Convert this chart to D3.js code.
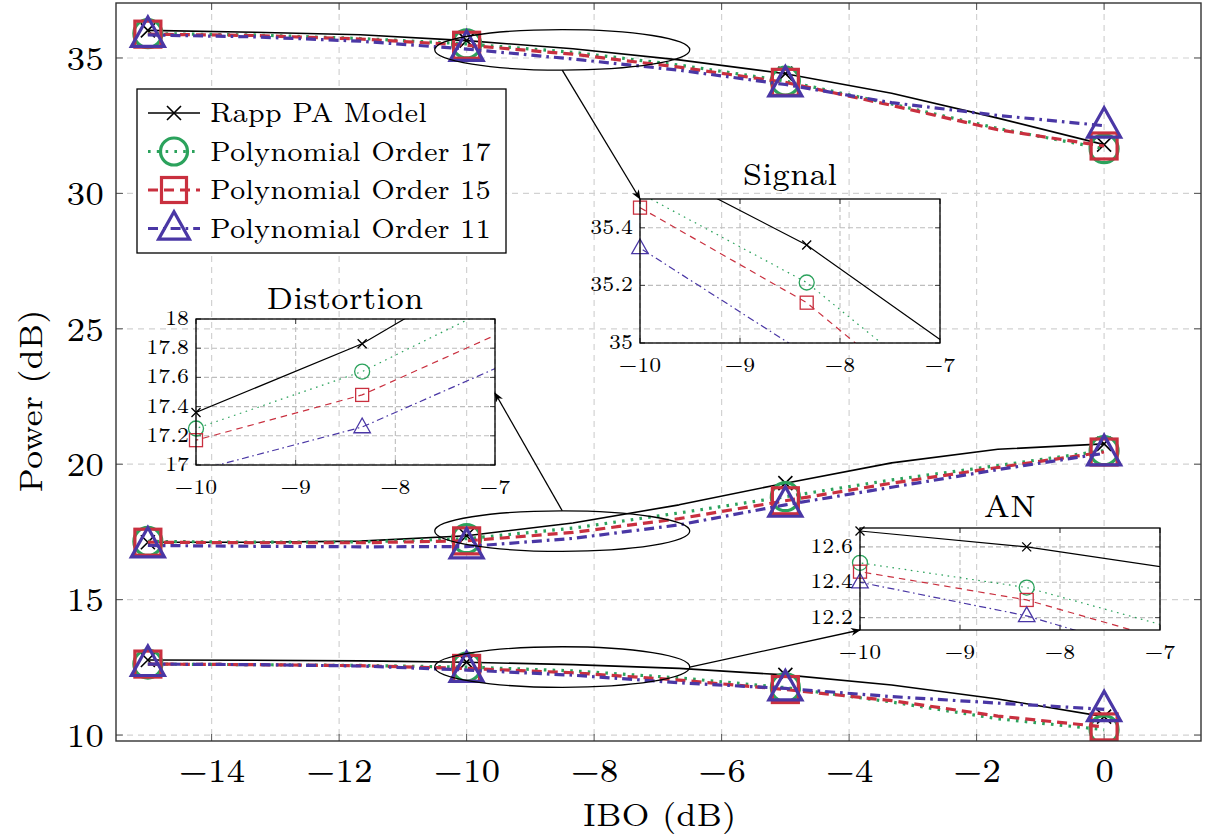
<!DOCTYPE html>
<html>
<head>
<meta charset="utf-8">
<script src="https://cdn.jsdelivr.net/npm/d3@7"></script>
<style>
  html, body { margin: 0; padding: 0; background: #fff; }
  svg { display: block; }
</style>
</head>
<body>
<svg id="chart" width="1207" height="836"></svg>
<script>
// ---- data -------------------------------------------------------------
const ibo = [-15, -13.333, -11.667, -10, -8.333, -6.667, -5, -3.333, -1.667, 0];

const seriesNames = ["Rapp PA Model", "Polynomial Order 17", "Polynomial Order 15", "Polynomial Order 11"];

// signal power (dB)
const rappSignal   = [36.02, 35.95, 35.86, 35.64, 35.34, 34.93, 34.42, 33.70, 32.78, 31.80];
const poly17Signal = [35.90, 35.85, 35.72, 35.52, 35.21, 34.74, 34.15, 33.30, 32.40, 31.65];
const poly15Signal = [35.88, 35.83, 35.70, 35.47, 35.14, 34.66, 34.10, 33.25, 32.35, 31.75];
const poly11Signal = [35.85, 35.78, 35.62, 35.33, 34.96, 34.55, 34.02, 33.35, 32.88, 32.50];

// distortion power (dB)
const rappDist   = [17.12, 17.12, 17.16, 17.36, 17.83, 18.50, 19.30, 20.05, 20.55, 20.75];
const poly17Dist = [17.15, 17.12, 17.13, 17.25, 17.64, 18.20, 18.80, 19.42, 19.95, 20.50];
const poly15Dist = [17.12, 17.10, 17.10, 17.17, 17.48, 17.99, 18.65, 19.30, 19.88, 20.45];
const poly11Dist = [17.00, 16.97, 16.95, 16.96, 17.26, 17.76, 18.50, 19.15, 19.80, 20.40];

// additive noise power (dB)
const rappAN   = [12.77, 12.76, 12.74, 12.69, 12.60, 12.46, 12.22, 11.85, 11.33, 10.68];
const poly17AN = [12.62, 12.60, 12.57, 12.51, 12.37, 12.11, 11.75, 11.22, 10.60, 10.20];
const poly15AN = [12.62, 12.60, 12.56, 12.46, 12.30, 12.03, 11.68, 11.27, 10.70, 10.30];
const poly11AN = [12.62, 12.60, 12.55, 12.40, 12.21, 11.93, 11.72, 11.42, 11.18, 10.95];

// axis ticks
const xTicks = [-14, -12, -10, -8, -6, -4, -2, 0];
const yTicks = [10, 15, 20, 25, 30, 35];
const insetXTicks = [-10, -9, -8, -7];
const signalYTicks = [35, 35.2, 35.4];
const distYTicks = [17, 17.2, 17.4, 17.6, 17.8, 18];
const anYTicks = [12.2, 12.4, 12.6];

// zoomed regions: [x centre, y centre] in data units, outlined on the main plot
const zoomCentres = [[-8.5, 35.3], [-8.5, 17.53], [-8.5, 12.51]];
const zoomRadius = [2.0, 0.75];

// ---- styles -------------------------------------------------------------
const FONT = '"LM Roman 7", "Latin Modern Roman", serif';
const styles = [
  { color: "#000000", dash: null,          insetDash: null,            width: 1.6, insetWidth: 1.2, mark: "cross" },
  { color: "#2ba25c", dash: "2.6,6.2",     insetDash: "1.6,4.6",       width: 3.2, insetWidth: 1.2, mark: "circle" },
  { color: "#c9303f", dash: "10,6",        insetDash: "6.5,5",         width: 3.2, insetWidth: 1.2, mark: "square" },
  { color: "#4a37a5", dash: "10,5,2.6,5",  insetDash: "7,3.5,1.6,3.5", width: 3.2, insetWidth: 1.2, mark: "triangle" }
];

const groups = [
  [rappSignal, poly17Signal, poly15Signal, poly11Signal],
  [rappDist, poly17Dist, poly15Dist, poly11Dist],
  [rappAN, poly17AN, poly15AN, poly11AN]
];

const svg = d3.select("#chart");
const fmtMinus = v => (v < 0 ? "\u2212" + Math.abs(v) : String(v));

// ---- marker drawing -----------------------------------------------------
function drawMark(g, kind, cx, cy, size, color, sw) {
  if (kind === "cross") {
    const h = size * 0.5;
    g.append("path")
      .attr("d", `M${cx - h},${cy - h}L${cx + h},${cy + h}M${cx - h},${cy + h}L${cx + h},${cy - h}`)
      .attr("stroke", color).attr("stroke-width", sw).attr("fill", "none");
  } else if (kind === "circle") {
    g.append("circle").attr("cx", cx).attr("cy", cy).attr("r", size * 0.5)
      .attr("stroke", color).attr("stroke-width", sw).attr("fill", "none");
  } else if (kind === "square") {
    g.append("rect").attr("x", cx - size / 2).attr("y", cy - size / 2)
      .attr("width", size).attr("height", size)
      .attr("stroke", color).attr("stroke-width", sw).attr("fill", "none");
  } else if (kind === "triangle") {
    const w = size * 0.55, up = size * 0.6, down = size * 0.38;
    g.append("path")
      .attr("d", `M${cx},${cy - up}L${cx + w},${cy + down}L${cx - w},${cy + down}Z`)
      .attr("stroke", color).attr("stroke-width", sw).attr("fill", "none")
      .attr("stroke-linejoin", "miter");
  }
}

// ---- arrowhead ----------------------------------------------------------
const defs = svg.append("defs");
defs.append("marker")
  .attr("id", "arrowHead").attr("viewBox", "0 0 10 10")
  .attr("refX", 9).attr("refY", 5)
  .attr("markerWidth", 10).attr("markerHeight", 10)
  .attr("markerUnits", "userSpaceOnUse")
  .attr("orient", "auto")
  .append("path").attr("d", "M0,1 L10,5 L0,9 L3,5 Z").attr("fill", "#000");

// ---- main axes ----------------------------------------------------------
const plot = { left: 116, right: 1201, top: 3, bottom: 741 };
const x = d3.scaleLinear().domain([-15.5, 1.52]).range([plot.left, plot.right]);
const y = d3.scaleLinear().domain([9.78, 37.03]).range([plot.bottom, plot.top]);

defs.append("clipPath").attr("id", "mainClip").append("rect")
  .attr("x", plot.left).attr("y", plot.top)
  .attr("width", plot.right - plot.left).attr("height", plot.bottom - plot.top);

const gridColor = "#d2d2d2";
const gridDash = "6,5";
const main = svg.append("g");

// grid
main.append("g").selectAll("line").data(xTicks).join("line")
  .attr("x1", d => x(d)).attr("x2", d => x(d))
  .attr("y1", plot.top).attr("y2", plot.bottom)
  .attr("stroke", gridColor).attr("stroke-width", 1.2).attr("stroke-dasharray", gridDash);
main.append("g").selectAll("line").data(yTicks).join("line")
  .attr("x1", plot.left).attr("x2", plot.right)
  .attr("y1", d => y(d)).attr("y2", d => y(d))
  .attr("stroke", gridColor).attr("stroke-width", 1.2).attr("stroke-dasharray", gridDash);

// tick marks (inward on all four sides)
function tickMarks(g, xs, ys, xsc, ysc, box, len, color) {
  xs.forEach(v => {
    g.append("line").attr("x1", xsc(v)).attr("x2", xsc(v)).attr("y1", box.bottom).attr("y2", box.bottom - len)
      .attr("stroke", color).attr("stroke-width", 1);
    g.append("line").attr("x1", xsc(v)).attr("x2", xsc(v)).attr("y1", box.top).attr("y2", box.top + len)
      .attr("stroke", color).attr("stroke-width", 1);
  });
  ys.forEach(v => {
    g.append("line").attr("y1", ysc(v)).attr("y2", ysc(v)).attr("x1", box.left).attr("x2", box.left + len)
      .attr("stroke", color).attr("stroke-width", 1);
    g.append("line").attr("y1", ysc(v)).attr("y2", ysc(v)).attr("x1", box.right).attr("x2", box.right - len)
      .attr("stroke", color).attr("stroke-width", 1);
  });
}
tickMarks(main, xTicks, yTicks, x, y, plot, 7, "#555");

// tick labels via d3 axes
const xAxis = d3.axisBottom(x).tickValues(xTicks).tickFormat(fmtMinus).tickSize(0).tickPadding(0);
const gx = main.append("g").attr("transform", `translate(0,${plot.bottom})`).call(xAxis);
gx.select(".domain").remove();
gx.selectAll("text").attr("dy", null).attr("y", 41)
  .style("font-size", "33px").style("font-family", FONT).attr("fill", "#000");

const yAxis = d3.axisLeft(y).tickValues(yTicks).tickFormat(d3.format("d")).tickSize(0).tickPadding(0);
const gy = main.append("g").attr("transform", `translate(${plot.left - 12},0)`).call(yAxis);
gy.select(".domain").remove();
gy.selectAll("text").attr("dy", "0.34em").attr("x", 0)
  .style("font-size", "33px").style("font-family", FONT).attr("fill", "#000");

// axis titles
svg.append("text").attr("x", (plot.left + plot.right) / 2 + 1).attr("y", 826)
  .attr("text-anchor", "middle").style("font-size", "32px").style("font-family", FONT)
  .text("IBO (dB)");
svg.append("text").attr("transform", `translate(42,${(plot.top + plot.bottom) / 2 + 29}) rotate(-90)`)
  .attr("text-anchor", "middle").style("font-size", "32px").style("font-family", FONT)
  .text("Power (dB)");

// series: line + marks every third sample
const series = main.append("g").attr("clip-path", "url(#mainClip)");
const line = d3.line().x((d, i) => x(ibo[i])).y(d => y(d));
groups.forEach(grp => {
  grp.forEach((vals, si) => {
    const st = styles[si];
    series.append("path").datum(vals).attr("d", line)
      .attr("fill", "none").attr("stroke", st.color).attr("stroke-width", st.width)
      .attr("stroke-dasharray", st.dash).attr("stroke-linejoin", "round");
    vals.forEach((v, i) => {
      if (i % 3 === 0) {
        const size = { cross: 14, circle: 28, square: 26, triangle: 30 }[st.mark];
        drawMark(series, st.mark, x(ibo[i]), y(v), size, st.color, st.mark === "cross" ? 1.6 : 3.2);
      }
    });
  });
});

// main frame
main.append("rect").attr("x", plot.left).attr("y", plot.top)
  .attr("width", plot.right - plot.left).attr("height", plot.bottom - plot.top)
  .attr("fill", "none").attr("stroke", "#333").attr("stroke-width", 1.4);

// ---- zoom ellipses ------------------------------------------------------
const rxPx = x(zoomRadius[0]) - x(0);
const ryPx = y(0) - y(zoomRadius[1]);
zoomCentres.forEach(c => {
  svg.append("ellipse").attr("cx", x(c[0])).attr("cy", y(c[1]))
    .attr("rx", rxPx).attr("ry", ryPx)
    .attr("fill", "none").attr("stroke", "#000").attr("stroke-width", 1.3);
});

// ---- legend -------------------------------------------------------------
const legend = svg.append("g");
legend.append("rect").attr("x", 137).attr("y", 89).attr("width", 369).attr("height", 164)
  .attr("fill", "#fff").attr("stroke", "#000").attr("stroke-width", 1.3);
seriesNames.forEach((name, i) => {
  const st = styles[i];
  const ry = 113 + i * 38.5;
  legend.append("line").attr("x1", 148).attr("x2", 200).attr("y1", ry).attr("y2", ry)
    .attr("stroke", st.color).attr("stroke-width", st.width)
    .attr("stroke-dasharray", st.dash);
  const size = { cross: 14, circle: 27, square: 25, triangle: 28 }[st.mark];
  drawMark(legend, st.mark, 174, ry, size, st.color, st.mark === "cross" ? 1.6 : 3.2);
  legend.append("text").attr("x", 210).attr("y", ry + 9)
    .style("font-size", "27px").style("font-family", FONT).text(name);
});

// ---- insets -------------------------------------------------------------
const insets = [
  { title: "Signal", box: { left: 640, right: 940, top: 199, bottom: 343 },
    yDomain: [35, 35.5], yTicks: signalYTicks, data: groups[0],
    fmt: v => (Number.isInteger(v) ? String(v) : d3.format(".1f")(v)),
    titleX: 790, titleY: 185 },
  { title: "Distortion", box: { left: 196, right: 495, top: 319, bottom: 465 },
    yDomain: [17, 18], yTicks: distYTicks, data: groups[1],
    fmt: v => (Number.isInteger(v) ? String(v) : d3.format(".1f")(v)),
    titleX: 345, titleY: 309 },
  { title: "AN", box: { left: 860, right: 1160, top: 528, bottom: 630 },
    yDomain: [12.13, 12.707], yTicks: anYTicks, data: groups[2], fmt: d3.format(".1f"),
    titleX: 1010, titleY: 517 }
];

insets.forEach((ins, k) => {
  const b = ins.box;
  const ix = d3.scaleLinear().domain([-10, -7]).range([b.left, b.right]);
  const iy = d3.scaleLinear().domain(ins.yDomain).range([b.bottom, b.top]);
  const g = svg.append("g");
  const clipId = "insetClip" + k;
  defs.append("clipPath").attr("id", clipId).append("rect")
    .attr("x", b.left).attr("y", b.top).attr("width", b.right - b.left).attr("height", b.bottom - b.top);

  // grid
  g.append("g").selectAll("line").data(insetXTicks).join("line")
    .attr("x1", d => ix(d)).attr("x2", d => ix(d)).attr("y1", b.top).attr("y2", b.bottom)
    .attr("stroke", "#bdbdbd").attr("stroke-width", 1.1).attr("stroke-dasharray", "5,3");
  g.append("g").selectAll("line").data(ins.yTicks).join("line")
    .attr("x1", b.left).attr("x2", b.right).attr("y1", d => iy(d)).attr("y2", d => iy(d))
    .attr("stroke", "#bdbdbd").attr("stroke-width", 1.1).attr("stroke-dasharray", "5,3");
  tickMarks(g, insetXTicks, ins.yTicks, ix, iy, b, 5, "#444");

  // series
  const sg = g.append("g").attr("clip-path", `url(#${clipId})`);
  const iline = d3.line().x((d, i) => ix(ibo[i])).y(d => iy(d));
  ins.data.forEach((vals, si) => {
    const st = styles[si];
    sg.append("path").datum(vals).attr("d", iline)
      .attr("fill", "none").attr("stroke", st.color).attr("stroke-width", st.insetWidth)
      .attr("stroke-dasharray", st.insetDash);
  });
  ins.data.forEach((vals, si) => {
    const st = styles[si];
    vals.forEach((v, i) => {
      const inX = ibo[i] >= -10.01 && ibo[i] <= -7;
      const inY = v >= ins.yDomain[0] && v <= ins.yDomain[1];
      if (inX && inY) {
        const size = { cross: 9, circle: 15, square: 13, triangle: 15 }[st.mark];
        drawMark(g, st.mark, ix(ibo[i]), iy(v), size, st.color, 1.3);
      }
    });
  });

  // frame
  g.append("rect").attr("x", b.left).attr("y", b.top)
    .attr("width", b.right - b.left).attr("height", b.bottom - b.top)
    .attr("fill", "none").attr("stroke", "#000").attr("stroke-width", 1.3);

  // tick labels
  g.append("g").selectAll("text").data(insetXTicks).join("text")
    .attr("x", d => ix(d)).attr("y", b.bottom + 29).attr("text-anchor", "middle")
    .style("font-size", "21px").style("font-family", FONT).text(fmtMinus);
  g.append("g").selectAll("text").data(ins.yTicks).join("text")
    .attr("x", b.left - 7).attr("y", d => iy(d) + 6).attr("text-anchor", "end")
    .style("font-size", "21px").style("font-family", FONT).text(ins.fmt);

  // title
  g.append("text").attr("x", ins.titleX).attr("y", ins.titleY).attr("text-anchor", "middle")
    .style("font-size", "31px").style("font-family", FONT).text(ins.title);
});

// ---- arrows from zoom ellipses to insets --------------------------------
const arrows = [
  { from: [x(zoomCentres[0][0]), y(zoomCentres[0][1]) + ryPx], to: [640, 199] },
  { from: [x(zoomCentres[1][0]), y(zoomCentres[1][1]) - ryPx], to: [495, 393] },
  { from: [x(zoomCentres[2][0]) + rxPx, y(zoomCentres[2][1])], to: [860, 630] }
];
arrows.forEach(a => {
  svg.append("line").attr("x1", a.from[0]).attr("y1", a.from[1])
    .attr("x2", a.to[0]).attr("y2", a.to[1])
    .attr("stroke", "#000").attr("stroke-width", 1.3).attr("marker-end", "url(#arrowHead)");
});
</script>
</body>
</html>
